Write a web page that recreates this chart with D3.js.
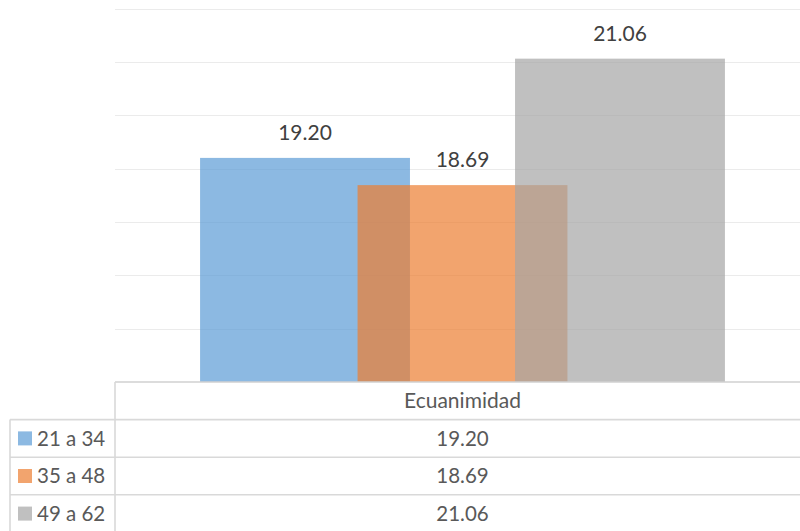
<!DOCTYPE html>
<html>
<head>
<meta charset="utf-8">
<script src="https://cdn.jsdelivr.net/npm/d3@7/dist/d3.min.js"></script>
<style>
  html, body { margin: 0; padding: 0; background: #ffffff; }
  svg { display: block; }
  text { font-family: Lato, "Open Sans", sans-serif; fill: #404040; }
  .tbl text { fill: #595959; }
</style>
</head>
<body>
<div id="chart"></div>
<script>
// Data
const categories = ["Ecuanimidad"];
const seriesNames = ["21 a 34", "35 a 48", "49 a 62"];
const seriesValues = [19.20, 18.69, 21.06];
const yTicks = [15, 16, 17, 18, 19, 20, 21, 22];
const seriesColors = ["#5B9BD5", "#ED7D31", "#A5A5A5"];

const W = 800, H = 531;
const svg = d3.select("#chart").append("svg").attr("width", W).attr("height", H);

const plotLeft = 115, plotRight = 810, plotTop = 8.5, plotBottom = 382;
const tableLeft = 10;
const rowH = 37.6;
const fmt = d3.format(".2f");

const y = d3.scaleLinear().domain([15, 22]).range([plotBottom, plotTop]);
const x = d3.scaleBand().domain(categories).range([plotLeft, plotRight]).padding(0);
const bw = x.bandwidth();
const inner = d3.scalePoint().domain(seriesNames).range([-0.2266 * bw, 0.2266 * bw]);
const barW = 0.302 * bw;

// Gridlines
svg.append("g").selectAll("line")
  .data(yTicks.filter(t => t > 15))
  .join("line")
  .attr("x1", plotLeft).attr("x2", W)
  .attr("y1", d => Math.round(y(d)) + 0.5).attr("y2", d => Math.round(y(d)) + 0.5)
  .attr("stroke", "#EBEBEB").attr("stroke-width", 1.2);

// Bars (overlapping, semi-transparent)
const rows = seriesNames.map((s, i) => ({ s, v: seriesValues[i], c: seriesColors[i] }));
categories.forEach(cat => {
  const cx = x(cat) + bw / 2;
  svg.append("g").selectAll("rect")
    .data(rows)
    .join("rect")
    .attr("x", d => cx + inner(d.s) - barW / 2)
    .attr("width", barW)
    .attr("y", d => y(d.v))
    .attr("height", d => y(15) - y(d.v))
    .attr("fill", d => d.c)
    .attr("fill-opacity", 0.7);

  svg.append("g").selectAll("text")
    .data(rows)
    .join("text")
    .attr("x", d => cx + inner(d.s))
    .attr("y", d => y(d.v) - 18)
    .attr("text-anchor", "middle")
    .attr("font-size", 21)
    .text(d => fmt(d.v));
});

// Data table
const tbl = svg.append("g").attr("class", "tbl");
const lineColor = "#D9D9D9";
// top border of the table (axis line)
tbl.append("line").attr("x1", plotLeft).attr("x2", W)
  .attr("y1", plotBottom).attr("y2", plotBottom)
  .attr("stroke", "#D0D0D0").attr("stroke-width", 1.6);
// row separators
const rowTops = seriesNames.map((s, i) => plotBottom + rowH * (i + 1));
tbl.selectAll("line.row").data(rowTops).join("line")
  .attr("class", "row")
  .attr("x1", tableLeft).attr("x2", W)
  .attr("y1", d => d).attr("y2", d => d)
  .attr("stroke", lineColor).attr("stroke-width", 1.6);
// vertical borders
tbl.append("line").attr("x1", plotLeft).attr("x2", plotLeft)
  .attr("y1", plotBottom).attr("y2", H)
  .attr("stroke", lineColor).attr("stroke-width", 1.6);
tbl.append("line").attr("x1", tableLeft).attr("x2", tableLeft)
  .attr("y1", rowTops[0]).attr("y2", H)
  .attr("stroke", lineColor).attr("stroke-width", 1.6);

// header
categories.forEach(cat => {
  tbl.append("text")
    .attr("x", x(cat) + bw / 2)
    .attr("y", plotBottom + rowH / 2)
    .attr("dy", "0.35em")
    .attr("text-anchor", "middle")
    .attr("font-size", 21)
    .text(cat);
});

// series rows with legend keys
rows.forEach((d, i) => {
  const top = rowTops[i];
  const cy = top + rowH / 2;
  tbl.append("rect")
    .attr("x", 18).attr("y", cy - 7)
    .attr("width", 14).attr("height", 14)
    .attr("fill", d.c).attr("fill-opacity", 0.7);
  tbl.append("text")
    .attr("x", 37).attr("y", cy).attr("dy", "0.35em")
    .attr("font-size", 20.5)
    .text(d.s);
  tbl.append("text")
    .attr("x", x(categories[0]) + bw / 2).attr("y", cy).attr("dy", "0.35em")
    .attr("text-anchor", "middle")
    .attr("font-size", 20.5)
    .text(fmt(d.v));
});
</script>
</body>
</html>
